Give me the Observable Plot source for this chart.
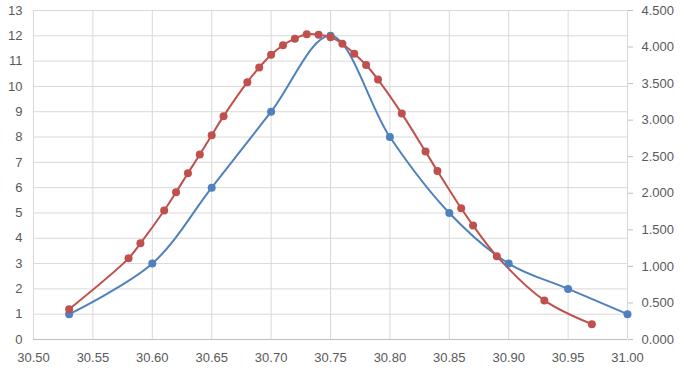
<!DOCTYPE html>
<html><head><meta charset="utf-8">
<script src="https://cdn.jsdelivr.net/npm/d3@7"></script>
<script src="https://cdn.jsdelivr.net/npm/@observablehq/plot@0.6"></script>
<style>
body{margin:0;background:#fff}
svg text{font-family:"Liberation Sans",Arial,sans-serif}
</style>
</head><body><div id="chart"></div>
<script>
// Blue series (left axis)
const blueX = [30.53, 30.60, 30.65, 30.70, 30.75, 30.80, 30.85, 30.90, 30.95, 31.00];
const blueY = [1, 3, 6, 9, 12, 8, 5, 3, 2, 1];
// Red series (right axis)
const redX = [30.53, 30.58, 30.59, 30.61, 30.62, 30.63, 30.64, 30.65, 30.66, 30.68, 30.69, 30.70, 30.71, 30.72, 30.73, 30.74, 30.75, 30.76, 30.77, 30.78, 30.79, 30.81, 30.83, 30.84, 30.86, 30.87, 30.89, 30.93, 30.97];
const redY = [0.415, 1.11, 1.315, 1.765, 2.015, 2.275, 2.53, 2.795, 3.055, 3.52, 3.72, 3.895, 4.025, 4.115, 4.175, 4.17, 4.135, 4.045, 3.91, 3.755, 3.555, 3.09, 2.57, 2.305, 1.795, 1.56, 1.14, 0.535, 0.21];
// Tick labels
const xTicks = [30.50, 30.55, 30.60, 30.65, 30.70, 30.75, 30.80, 30.85, 30.90, 30.95, 31.00];
const leftTicks = [0,1,2,3,4,5,6,7,8,9,10,11,12,13];
const rightTicks = [0, 0.5, 1, 1.5, 2, 2.5, 3, 3.5, 4, 4.5];
const leftMax = 13, rightMax = 4.5;

const blue = blueX.map((x, i) => ({x, y: blueY[i]}));
const red = redX.map((x, i) => ({x, y: redY[i] * leftMax / rightMax}));

const textColor = "#595959";
const chart = Plot.plot({
  width: 681, height: 370,
  marginLeft: 33, marginRight: 54, marginTop: 10, marginBottom: 31,
  style: {fontSize: "13px", color: textColor, background: "#fff"},
  x: {domain: [30.5, 31.0]},
  y: {domain: [0, leftMax]},
  marks: [
    Plot.gridX(xTicks, {stroke: "#d9d9d9", strokeOpacity: 1}),
    Plot.gridY(leftTicks, {stroke: "#d9d9d9", strokeOpacity: 1}),
    Plot.ruleY([0], {stroke: "#bfbfbf"}),
    Plot.axisX(xTicks, {tickSize: 0, tickPadding: 13, tickFormat: d => d.toFixed(2), fill: textColor, label: null}),
    Plot.axisY(leftTicks, {anchor: "left", tickSize: 0, tickPadding: 11, fill: textColor, label: null}),
    Plot.axisY(rightTicks.map(v => v * leftMax / rightMax), {anchor: "right", tickSize: 5, tickPadding: 9, stroke: "#bfbfbf", fill: textColor, label: null,
      tickFormat: d => (d * rightMax / leftMax).toFixed(3)}),
    Plot.line(blue, {x: "x", y: "y", stroke: "#4f81bd", strokeWidth: 2, curve: "catmull-rom"}),
    Plot.line(red, {x: "x", y: "y", stroke: "#c0504d", strokeWidth: 2, curve: "catmull-rom"}),
    Plot.dot(blue, {x: "x", y: "y", r: 4, fill: "#4f81bd"}),
    Plot.dot(red, {x: "x", y: "y", r: 4, fill: "#c0504d"})
  ]
});
document.getElementById("chart").appendChild(chart);
</script>
</body></html>
